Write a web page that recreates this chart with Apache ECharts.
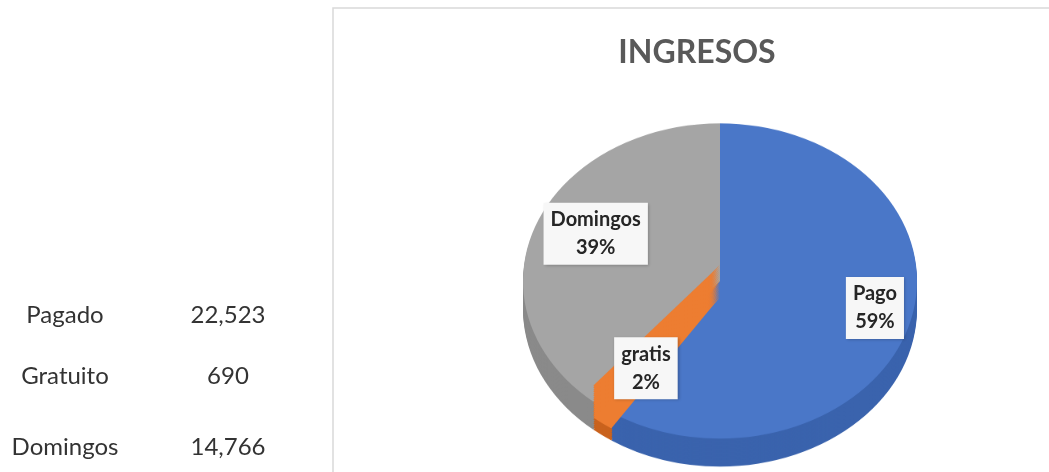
<!DOCTYPE html>
<html>
<head>
<meta charset="utf-8">
<script src="https://cdn.jsdelivr.net/npm/echarts@6/dist/echarts.min.js"></script>
<style>
  html, body { margin: 0; padding: 0; background: #fff; }
  #wrap { position: relative; width: 1049px; height: 472px; overflow: hidden; }
  /* pie drawn as a circle, then squashed vertically to look tilted */
  #pie { position: absolute; left: 0; top: 0; width: 1049px; height: 600px; transform: scaleY(0.8); transform-origin: 0 0; }
  #main { position: absolute; left: 0; top: 0; width: 1049px; height: 472px; }
</style>
</head>
<body>
<div id="wrap">
  <div id="pie"></div>
  <div id="main"></div>
</div>
<script>
// data
var tableNames = ['Pagado', 'Gratuito', 'Domingos'];
var sliceNames = ['Pago', 'gratis', 'Domingos'];
var values = [22523, 690, 14766];
var topColors = ['#4a77c8', '#ed7d31', '#a5a5a5'];
var sideColors = ['#3a63ad', '#c9621d', '#8a8a8a'];

// geometry of the tilted pie (in page pixels)
var cx = 720, cy = 281, radius = 197;
var tilt = 0.8;       // same as the css scaleY
var depth = 28;       // height of the side wall
var layers = 14;
var bandHalf = 16;    // the thin slice is drawn as an extruded band, like excel does
var labelReach = 1.45; // push the inside labels out from r/2
var labelLift = -7;
var labelShiftX = 14;

var pieData = sliceNames.map(function (n, i) {
    return { name: n, value: values[i] };
});

function pieLayer(offsetY, colorFn) {
    return {
        type: 'pie',
        silent: true,
        animation: false,
        center: [cx, (cy + offsetY) / tilt],
        radius: radius,
        startAngle: 90,
        label: { show: false },
        labelLine: { show: false },
        itemStyle: { color: colorFn, borderWidth: 0 },
        data: pieData
    };
}

// --- pie (squashed) ---
var pieChart = echarts.init(document.getElementById('pie'), null, { renderer: 'canvas' });
var pieSeries = [];
for (var k = layers; k >= 1; k--) {
    pieSeries.push(pieLayer(depth * k / layers, function (p) { return sideColors[p.dataIndex]; }));
}
pieSeries.push(pieLayer(0, function (p) { return topColors[p.dataIndex]; }));
// band for the smallest slice
var smallest = values.indexOf(Math.min.apply(null, values));
for (var b = -bandHalf; b <= bandHalf; b += 2) {
    pieSeries.push(pieLayer(b, function (p) {
        return p.dataIndex === smallest ? topColors[smallest] : 'rgba(0,0,0,0)';
    }));
}
pieChart.setOption({ animation: false, series: pieSeries });

// --- frame, title, table and labels ---
var mainChart = echarts.init(document.getElementById('main'), null, { renderer: 'canvas' });

var tableX = [65, 228];
var tableY = [315, 376, 447];
var graphics = [
    {
        type: 'rect',
        silent: true,
        shape: { x: 333, y: 8, width: 760, height: 520 },
        style: { fill: 'none', stroke: '#d9d9d9', lineWidth: 1.5 }
    },
    {
        type: 'text',
        x: 697, y: 53,
        style: {
            text: 'INGRESOS',
            fill: '#595959',
            font: 'bold 32px Lato',
            align: 'center',
            verticalAlign: 'middle'
        }
    }
];
tableNames.forEach(function (n, i) {
    graphics.push({
        type: 'text', x: tableX[0], y: tableY[i],
        style: { text: n, fill: '#333', font: '24px Lato', align: 'center', verticalAlign: 'middle' }
    });
    graphics.push({
        type: 'text', x: tableX[1], y: tableY[i],
        style: { text: values[i].toLocaleString('en-US'), fill: '#333', font: '24px Lato', align: 'center', verticalAlign: 'middle' }
    });
});

mainChart.setOption({
    animation: false,
    graphic: graphics,
    series: [{
        type: 'pie',
        silent: true,
        center: [cx, cy],
        radius: radius,
        startAngle: 90,
        percentPrecision: 0,
        itemStyle: { color: 'rgba(0,0,0,0)', borderWidth: 0 },
        label: {
            show: true,
            position: 'inside',
            formatter: '{b}\n{d}%',
            fontFamily: 'Lato',
            fontWeight: 'bold',
            fontSize: 20,
            lineHeight: 28,
            color: '#262626',
            backgroundColor: '#f7f7f7',
            padding: [3, 7],
            shadowColor: 'rgba(0,0,0,0.25)',
            shadowBlur: 3,
            shadowOffsetX: 1,
            shadowOffsetY: 1
        },
        labelLine: { show: false },
        labelLayout: function (params) {
            var r = params.labelRect;
            var lx = r.x + r.width / 2;
            var ly = r.y + r.height / 2;
            return {
                x: cx + (lx - cx) * labelReach + labelShiftX,
                y: cy + (ly - cy) * labelReach * tilt + labelLift,
                align: 'center',
                verticalAlign: 'middle'
            };
        },
        data: pieData
    }]
});
</script>
</body>
</html>
